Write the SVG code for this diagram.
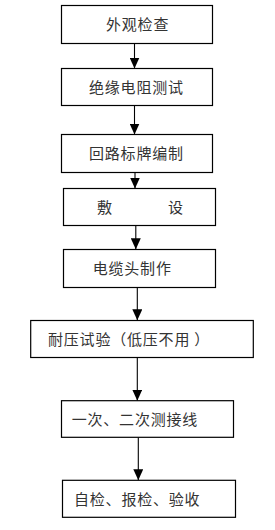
<svg xmlns="http://www.w3.org/2000/svg" width="275" height="530" viewBox="0 0 275 530">
<style>
.box{fill:#fff;stroke:#000;stroke-width:1.2}
.t{font-family:"Noto Sans CJK SC","Liberation Sans",sans-serif;font-size:15px;fill:#333;letter-spacing:0.8px}
.c{stroke:#000;stroke-width:1.1;fill:none}
</style>
<defs>
<marker id="ah" viewBox="0 0 11 10" refX="11" refY="5" markerWidth="11" markerHeight="10" markerUnits="userSpaceOnUse" orient="auto">
<path d="M0,0 L11,5 L0,10 Z" fill="#000"/>
</marker>
</defs>
<rect width="275" height="530" fill="#fff"/>
<g id="connectors">
<line class="c" x1="134.5" y1="43.5" x2="134.5" y2="68.5" marker-end="url(#ah)"/>
<line class="c" x1="134.5" y1="105.5" x2="134.5" y2="134.5" marker-end="url(#ah)"/>
<line class="c" x1="135" y1="172.5" x2="135" y2="188.5" marker-end="url(#ah)"/>
<line class="c" x1="135.8" y1="225.3" x2="135.8" y2="249.3" marker-end="url(#ah)"/>
<line class="c" x1="137.3" y1="287.3" x2="137.3" y2="320.3" marker-end="url(#ah)"/>
<line class="c" x1="137.3" y1="357.3" x2="137.3" y2="400.7" marker-end="url(#ah)"/>
<line class="c" x1="138.3" y1="437.3" x2="138.3" y2="480.2" marker-end="url(#ah)"/>
</g>
<g id="n1"><rect class="box" x="61.5" y="5.5" width="151" height="38"/><text class="t" x="106" y="30">外观检查</text></g>
<g id="n2"><rect class="box" x="61.5" y="68.5" width="151" height="37"/><text class="t" x="89" y="92.5">绝缘电阻测试</text></g>
<g id="n3"><rect class="box" x="61.5" y="134.5" width="151" height="38"/><text class="t" x="89" y="159">回路标牌编制</text></g>
<g id="n4"><rect class="box" x="63.5" y="188.5" width="152" height="37"/><text class="t" x="97" y="212.5">敷</text><text class="t" x="168" y="212.5">设</text></g>
<g id="n5"><rect class="box" x="63.5" y="249.5" width="152" height="38"/><text class="t" x="92.7" y="274">电缆头制作</text></g>
<g id="n6"><rect class="box" x="30.7" y="320.5" width="222.6" height="37"/><text class="t" x="48" y="344.5">耐压试验（低压不用 ）</text></g>
<g id="n7"><rect class="box" x="61.5" y="400.7" width="172" height="36.6"/><text class="t" x="71.7" y="424.5">一次、二次测接线</text></g>
<g id="n8"><rect class="box" x="62.5" y="480.3" width="173" height="37"/><text class="t" x="74" y="504.5">自检、报检、验收</text></g>
</svg>
